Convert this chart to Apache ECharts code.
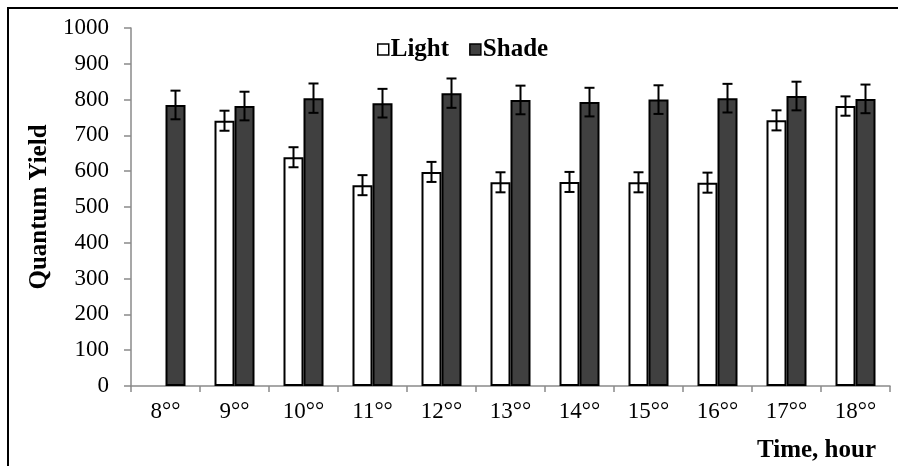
<!DOCTYPE html>
<html>
<head>
<meta charset="utf-8">
<script src="https://cdn.jsdelivr.net/npm/echarts@6/dist/echarts.min.js"></script>
<style>html,body{margin:0;padding:0;background:#fff;}#c{width:898px;height:466px;}</style>
</head>
<body>
<div id="c"></div>
<script>
var hours = ['8', '9', '10', '11', '12', '13', '14', '15', '16', '17', '18'];
var lightValues = [null, 741, 639, 561, 598, 569, 570, 569, 568, 742, 782];
var lightErrors = [null, 28, 28, 28, 28, 28, 28, 28, 28, 28, 27];
var shadeValues = [785, 782, 804, 790, 818, 799, 793, 800, 804, 810, 802];
var shadeErrors = [40, 40, 41, 40, 41, 40, 40, 40, 40, 40, 40];
var yTicks = [0, 1000, 100];

var FONT = '"Liberation Serif", "Times New Roman", serif';
var AXIS = '#8a8a8a';
var BAR_W = 20;

function errData(vals, errs) {
  return vals.map(function (v, i) { return v == null ? [i, NaN, NaN] : [i, v, errs[i]]; });
}
function errRender(offset) {
  return function (params, api) {
    var v = api.value(1), e = api.value(2);
    if (isNaN(v)) return null;
    var x = api.value(0);
    var hi = api.coord([x, v + e]);
    var lo = api.coord([x, v - e]);
    var cx = hi[0] + offset, w = 5;
    var st = { stroke: '#000', lineWidth: 2 };
    return {
      type: 'group',
      children: [
        { type: 'line', shape: { x1: cx, y1: hi[1], x2: cx, y2: lo[1] }, style: st },
        { type: 'line', shape: { x1: cx - w, y1: hi[1], x2: cx + w, y2: hi[1] }, style: st },
        { type: 'line', shape: { x1: cx - w, y1: lo[1], x2: cx + w, y2: lo[1] }, style: st }
      ]
    };
  };
}

var chart = echarts.init(document.getElementById('c'));
chart.setOption({
  animation: false,
  backgroundColor: '#fff',
  grid: { left: 131, right: 8, top: 28, bottom: 80, containLabel: false },
  legend: {
    data: ['Light', 'Shade'],
    left: 372, top: 32,
    icon: 'rect', itemWidth: 11, itemHeight: 11, itemGap: 20,
    itemStyle: { borderWidth: 1.5 },
    textStyle: { fontFamily: FONT, fontSize: 25, fontWeight: 'bold', color: '#000', padding: [0, 0, 0, -3] }
  },
  xAxis: {
    type: 'category',
    data: hours,
    axisLine: { lineStyle: { color: AXIS, width: 1.5 } },
    axisTick: { show: true, length: 6, lineStyle: { color: AXIS, width: 1.5 } },
    axisLabel: {
      interval: 0,
      margin: 14,
      fontFamily: FONT, fontSize: 23, color: '#000',
      formatter: function (v) { return v + '\u00B0\u00B0'; }
    }
  },
  yAxis: {
    type: 'value',
    min: yTicks[0], max: yTicks[1], interval: yTicks[2],
    name: 'Quantum Yield',
    nameLocation: 'middle',
    nameGap: 78,
    nameTextStyle: { fontFamily: FONT, fontSize: 25, fontWeight: 'bold', color: '#000' },
    axisLine: { show: true, lineStyle: { color: AXIS, width: 1.5 } },
    axisTick: { show: true, length: 7, lineStyle: { color: AXIS, width: 1.5 } },
    splitLine: { show: false },
    axisLabel: { margin: 22, fontFamily: FONT, fontSize: 23, color: '#000', formatter: function (v) { return String(v); } }
  },
  series: [
    {
      name: 'Light', type: 'bar', data: lightValues, barWidth: BAR_W, barGap: '0%',
      itemStyle: { color: '#fff', borderColor: '#000', borderWidth: 2 }
    },
    {
      name: 'Shade', type: 'bar', data: shadeValues, barWidth: BAR_W, barGap: '0%',
      itemStyle: { color: '#404040', borderColor: '#000', borderWidth: 2 }
    },
    { type: 'custom', data: errData(lightValues, lightErrors), renderItem: errRender(-BAR_W / 2), z: 5, silent: true },
    { type: 'custom', data: errData(shadeValues, shadeErrors), renderItem: errRender(BAR_W / 2), z: 5, silent: true }
  ],
  graphic: [
    { type: 'rect', shape: { x: 8, y: 8, width: 1000, height: 1000 }, style: { fill: 'none', stroke: '#000', lineWidth: 2 }, z: 10 },
    { type: 'text', right: 22, top: 438, style: { text: 'Time, hour', font: 'bold 25px ' + FONT, fill: '#000' } }
  ]
});
</script>
</body>
</html>
